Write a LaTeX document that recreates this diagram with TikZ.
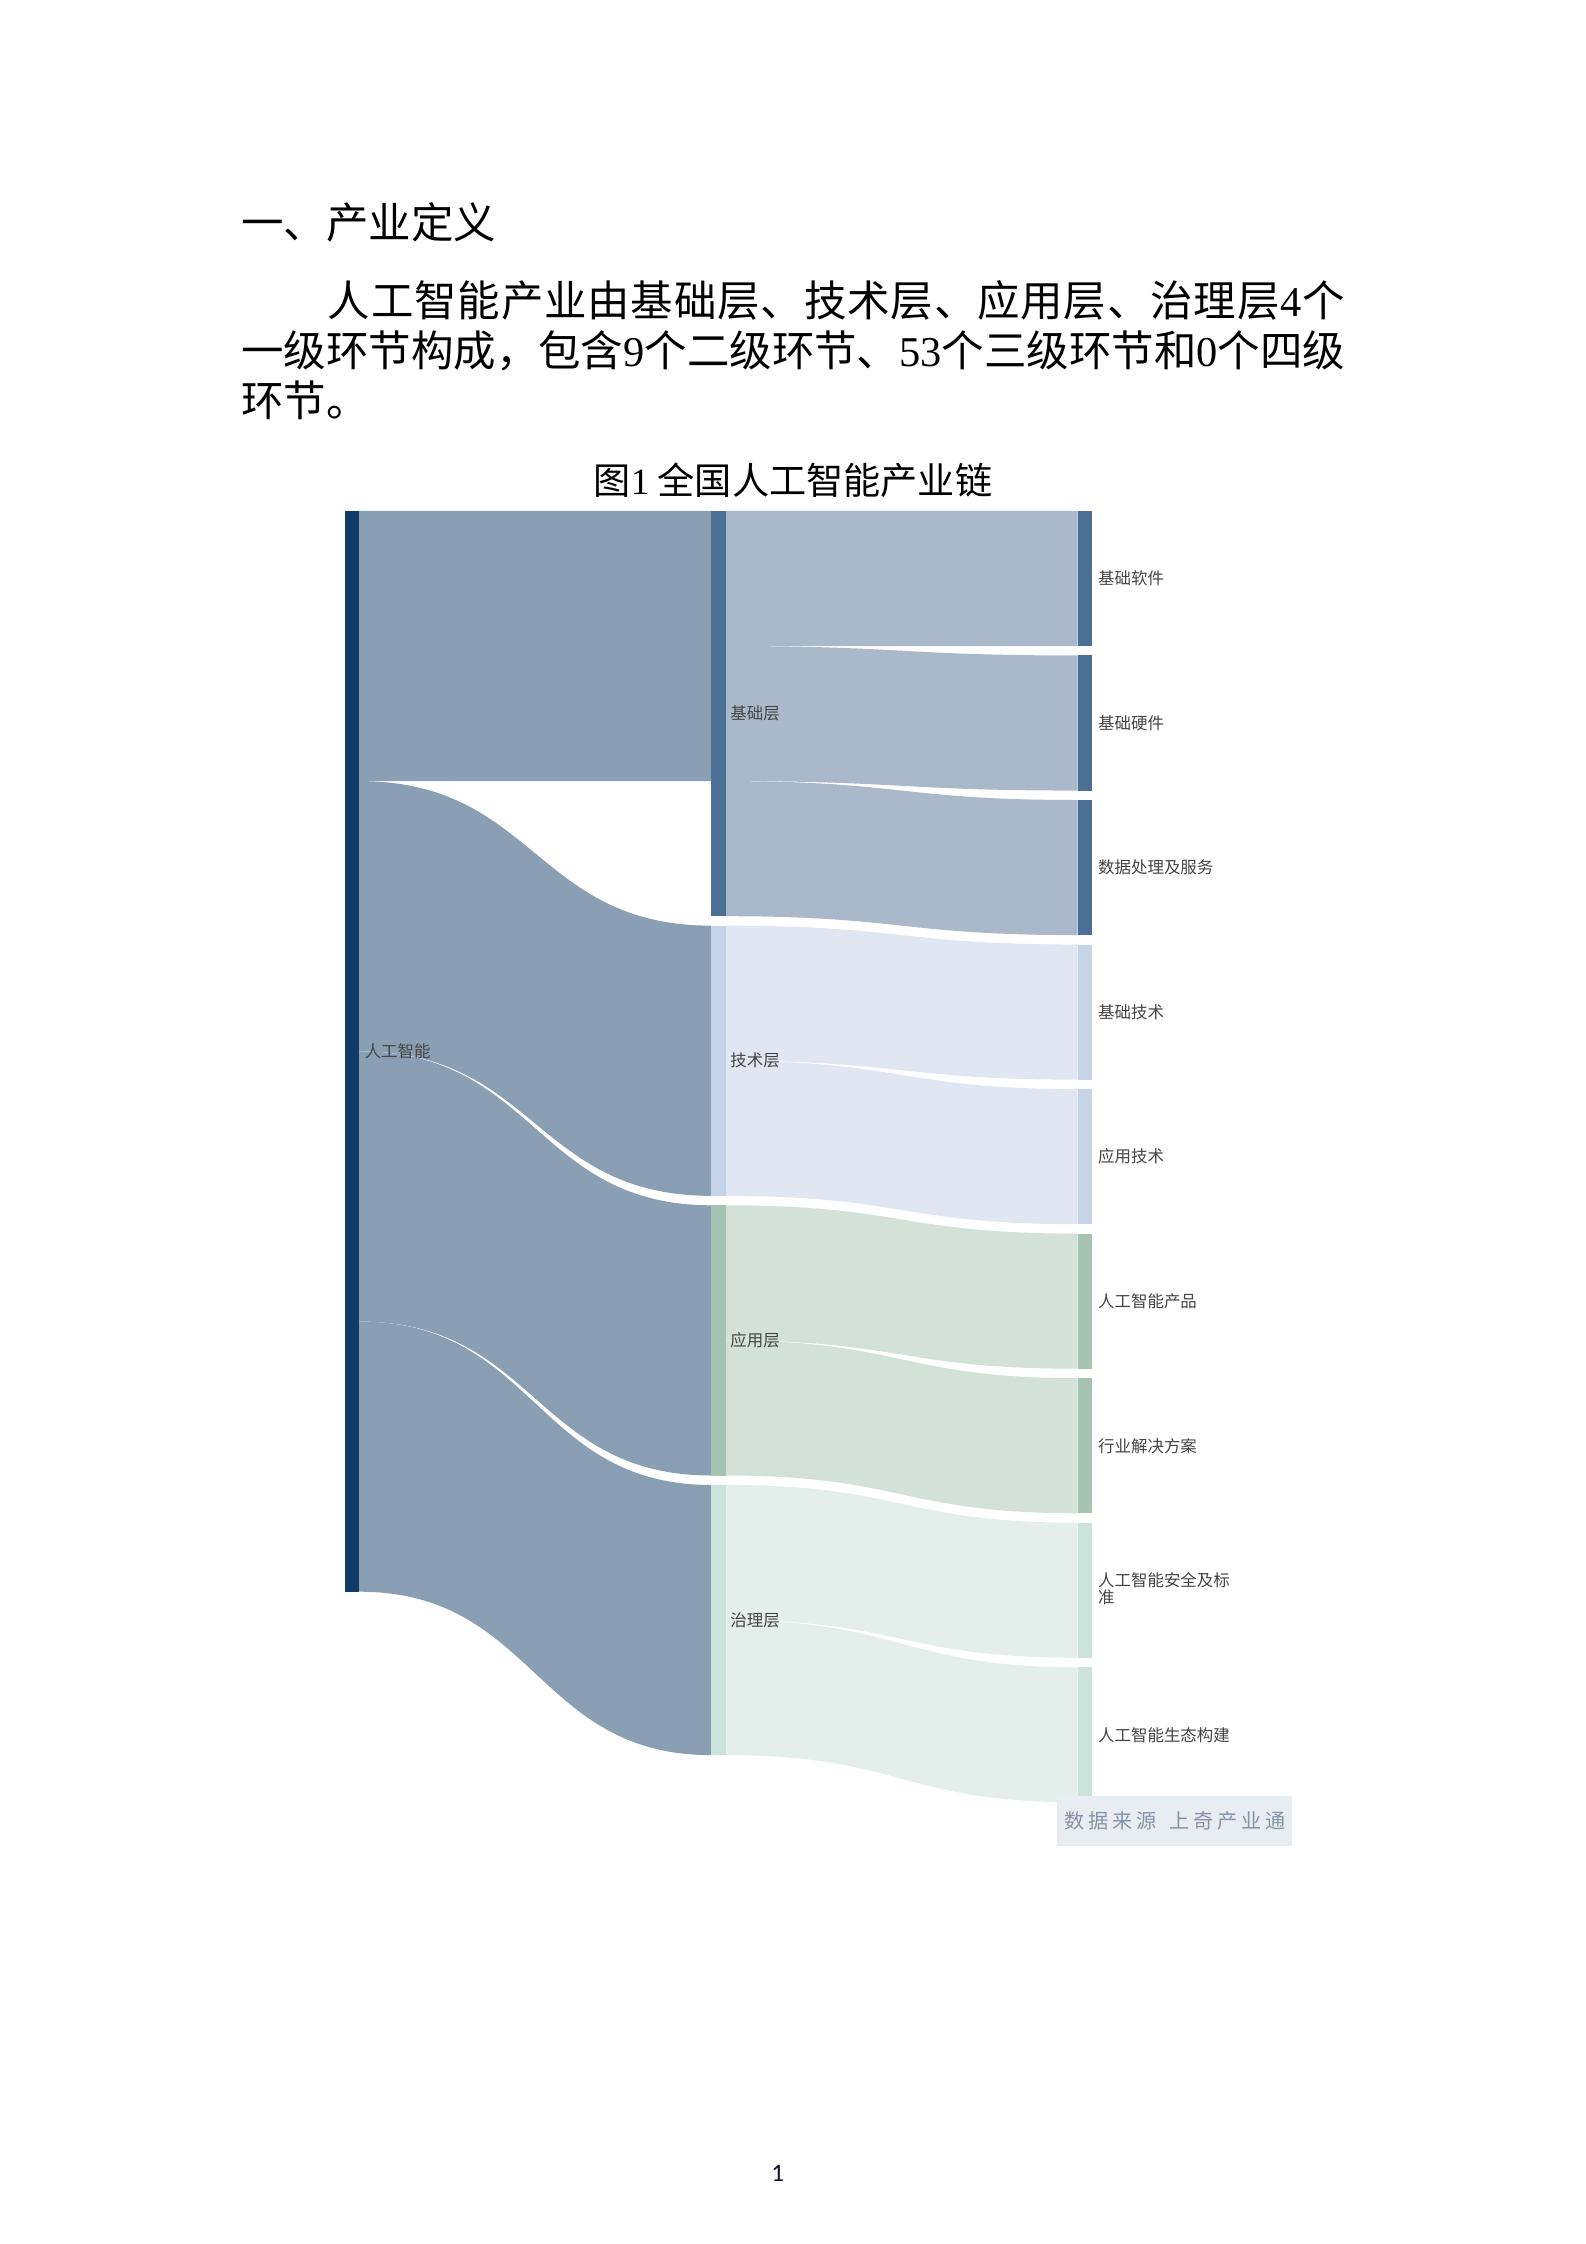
\documentclass[tikz,border=0pt]{standalone}
\usepackage{fontspec}
\setmainfont{Noto Sans CJK SC}
\newfontfamily\numf{Liberation Serif}
\newfontfamily\pgnum{Carlito}
\definecolor{navy}{HTML}{0E3A66}
\definecolor{lflowc}{HTML}{8A9FB4}
\definecolor{jcnode}{HTML}{4B6F95}
\definecolor{jcflow}{HTML}{A9B9CA}
\definecolor{jsnode}{HTML}{C6D4E8}
\definecolor{jsflow}{HTML}{E0E7F3}
\definecolor{yynode}{HTML}{A6C3B2}
\definecolor{yyflow}{HTML}{D2E2D9}
\definecolor{zlnode}{HTML}{CCE3DC}
\definecolor{zlflow}{HTML}{E4EFEC}
\definecolor{lbltext}{HTML}{444444}
\definecolor{srcbg}{HTML}{E8EDF2}
\definecolor{srctext}{HTML}{8494A6}
\definecolor{pgcol}{HTML}{101030}
% flow from left column (x 251) to middle column (x 497)
\newcommand\lflow[5]{\fill[#5] (251,#1) .. controls (374,#1) and (374,#3) .. (497,#3) -- (497,#4) .. controls (374,#4) and (374,#2) .. (251,#2) -- cycle;}
% flow from middle column (x 507) to right column (x 753)
\newcommand\rflow[5]{\fill[#5] (507,#1) .. controls (630,#1) and (630,#3) .. (753,#3) -- (753,#4) .. controls (630,#4) and (630,#2) .. (507,#2) -- cycle;}
\tikzset{
  bodytext/.style={anchor=base west, inner sep=0pt, font=\fontsize{16pt}{16pt}\selectfont},
  lbl/.style={anchor=west, inner sep=0pt, text=lbltext, font=\fontsize{6.2pt}{6.4pt}\selectfont, align=left},
}
\begin{document}
\begin{tikzpicture}[x=0.018950cm, y=-0.018950cm]
\fill[white] (0,0) rectangle (1108.2,1568);
\useasboundingbox (0,0) rectangle (1108.2,1568);

% heading and paragraph
\node[bodytext] (head) at (168.2,167) {一、产业定义};
\node[bodytext] (line1) at (228.7,221.5) {\makebox[13.47cm][s]{人\hfil 工\hfil 智\hfil 能\hfil 产\hfil 业\hfil 由\hfil 基\hfil 础\hfil 层\hfil 、\hfil 技\hfil 术\hfil 层\hfil 、\hfil 应\hfil 用\hfil 层\hfil 、\hfil 治\hfil 理\hfil 层\hfil{\numf 4}\hfil 个}};
\node[bodytext] (line2) at (168.2,256.3) {\makebox[14.616cm][s]{一\hfil 级\hfil 环\hfil 节\hfil 构\hfil 成\hfil ，\hfil 包\hfil 含\hfil{\numf 9}\hfil 个\hfil 二\hfil 级\hfil 环\hfil 节\hfil 、\hfil{\numf 53}\hfil 个\hfil 三\hfil 级\hfil 环\hfil 节\hfil 和\hfil{\numf 0}\hfil 个\hfil 四\hfil 级}};
\node[bodytext] (line3) at (168.2,290.8) {环节。};

% figure title
\node[anchor=base, inner sep=0pt, font=\fontsize{14pt}{14pt}\selectfont] (title) at (554.1,345.5) {图{\numf 1} 全国人工智能产业链};

% flows: 人工智能 -> level 2
\lflow{357}{545.8}{357}{545.8}{lflowc}
\lflow{545.8}{734.6}{646.8}{835.6}{lflowc}
\lflow{734.6}{923.4}{842.2}{1031}{lflowc}
\lflow{923.4}{1112.2}{1037.6}{1226.4}{lflowc}

% flows: level 2 -> level 3
\rflow{357}{451.4}{357}{451.4}{jcflow}
\rflow{451.4}{545.8}{458}{552.4}{jcflow}
\rflow{545.8}{640.2}{559}{653.4}{jcflow}
\rflow{646.8}{741.2}{660}{754.4}{jsflow}
\rflow{741.2}{835.6}{761}{855.4}{jsflow}
\rflow{842.2}{936.6}{862}{956.4}{yyflow}
\rflow{936.6}{1031}{963}{1057.4}{yyflow}
\rflow{1037.6}{1132}{1064}{1158.4}{zlflow}
\rflow{1132}{1226.4}{1165}{1259.4}{zlflow}

% node bars
\fill[navy] (241,357) rectangle (251,1112.2);
\fill[jcnode] (497,357) rectangle (507,640.2);
\fill[jsnode] (497,646.8) rectangle (507,835.6);
\fill[yynode] (497,842.2) rectangle (507,1031);
\fill[zlnode] (497,1037.6) rectangle (507,1226.4);
\fill[jcnode] (753,357) rectangle (763,451.4);
\fill[jcnode] (753,458) rectangle (763,552.4);
\fill[jcnode] (753,559) rectangle (763,653.4);
\fill[jsnode] (753,660) rectangle (763,754.4);
\fill[jsnode] (753,761) rectangle (763,855.4);
\fill[yynode] (753,862) rectangle (763,956.4);
\fill[yynode] (753,963) rectangle (763,1057.4);
\fill[zlnode] (753,1064) rectangle (763,1158.4);
\fill[zlnode] (753,1165) rectangle (763,1259.4);

% labels
\node[lbl] (ai) at (254.5,734.6) {人工智能};
\node[lbl] (jc) at (510,498.6) {基础层};
\node[lbl] (js) at (510,741.2) {技术层};
\node[lbl] (yy) at (510,936.6) {应用层};
\node[lbl] (zl) at (510,1132) {治理层};
\node[lbl] (r1) at (767,404.2) {基础软件};
\node[lbl] (r2) at (767,505.2) {基础硬件};
\node[lbl] (r3) at (767,606.2) {数据处理及服务};
\node[lbl] (r4) at (767,707.2) {基础技术};
\node[lbl] (r5) at (767,808.2) {应用技术};
\node[lbl] (r6) at (767,909.2) {人工智能产品};
\node[lbl] (r7) at (767,1010.2) {行业解决方案};
\node[lbl] (r8) at (767,1110) {人工智能安全及标\\准};
\node[lbl] (r9) at (767,1212.2) {人工智能生态构建};

% source box
\node[anchor=north west, fill=srcbg, text=srctext, inner sep=0pt,
      minimum width=3.111cm, minimum height=0.661cm,
      font=\fontsize{7.6pt}{7.6pt}\selectfont] (src) at (738.4,1254.3)
  {数\kern1.45pt 据\kern1.45pt 来\kern1.45pt 源\kern4.9pt 上\kern1.45pt 奇\kern1.45pt 产\kern1.45pt 业\kern1.45pt 通};

% page number
\node[anchor=base west, inner sep=0pt, text=pgcol, font=\pgnum\fontsize{9.5pt}{9.5pt}\selectfont] (pg) at (538.6,1524) {1};
\end{tikzpicture}
\end{document}
